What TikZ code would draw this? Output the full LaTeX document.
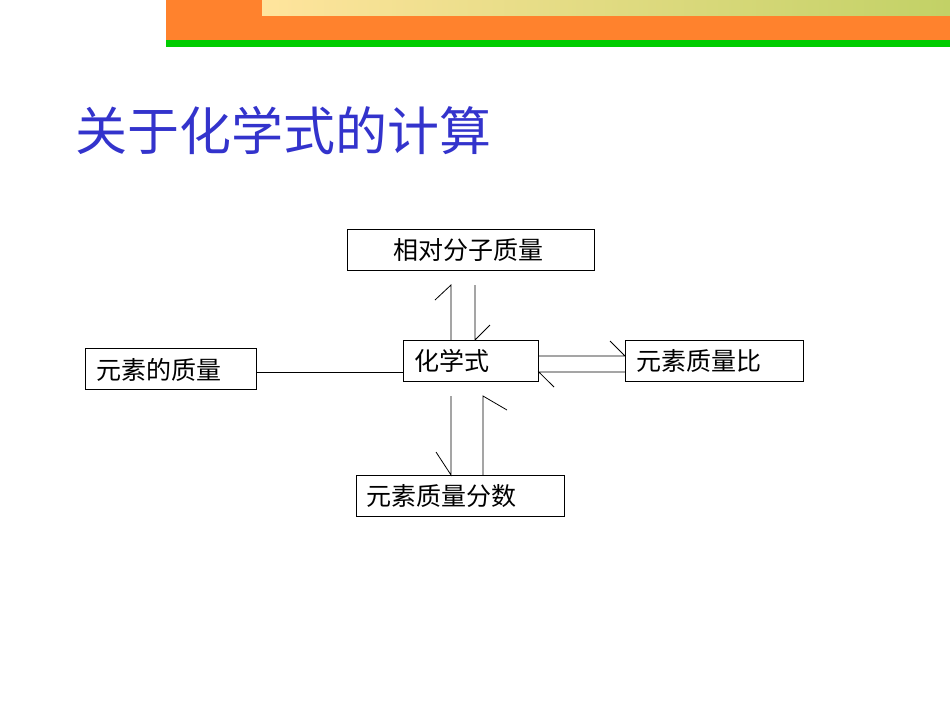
\documentclass[tikz,border=0pt]{standalone}
\usepackage{fontspec}
\newfontfamily\cjk{Noto Sans CJK SC}
\definecolor{hdrorange}{RGB}{255,130,45}
\definecolor{hdrgreen}{RGB}{0,204,0}
\definecolor{titleblue}{RGB}{51,51,204}
\begin{document}
\begin{tikzpicture}[x=1pt,y=-1pt,
  box/.style={draw,line width=0.8pt,inner sep=0pt,anchor=north west,minimum height=41pt},
  lbl/.style={anchor=west,inner sep=0pt,font=\cjk\fontsize{25}{25}\selectfont},
  conn/.style={line width=0.8pt}]
\useasboundingbox (0,0) rectangle (950,713);
\fill[hdrorange] (166,0) rectangle (950,40);
\fill[hdrgreen] (166,40) rectangle (950,47);
\shade[left color=yellow!40!pink!70, right color=green!40!orange!60] (262,0) rectangle (950,15);
\node[anchor=west,inner sep=0pt,text=titleblue,font=\cjk\fontsize{52}{52}\selectfont] (title) at (75,131) {关于化学式的计算};
\node[box,minimum width=247pt] (m) at (347,229) {};
\node[box,minimum width=135pt] (c) at (403,340) {};
\node[box,minimum width=178pt] (r) at (625,340) {};
\node[box,minimum width=171pt] (e) at (85,348) {};
\node[box,minimum width=208pt] (f) at (356,475) {};
\node[lbl] (mt) at (393,250) {相对分子质量};
\node[lbl] (ct) at (414,361) {化学式};
\node[lbl] (rt) at (636,361) {元素质量比};
\node[lbl] (et) at (96,370) {元素的质量};
\node[lbl] (ft) at (366,496) {元素质量分数};
% up/down between c and m
\draw[conn] (451,340) -- (451,285) -- (435,300);
\draw[conn] (475,285) -- (475,340) -- (490,325);
% left
\draw[conn] (e.east |- 0,372) -- (c.west |- 0,372);
% right
\draw[conn] (c.east |- 0,356) -- (r.west |- 0,356) -- (610,341);
\draw[conn] (r.west |- 0,372) -- (c.east |- 0,372) -- (554,387);
% down
\draw[conn] (451,396) -- (451,475) -- (436,452);
\draw[conn] (483,475) -- (483,396) -- (507,410);
\end{tikzpicture}
\end{document}
